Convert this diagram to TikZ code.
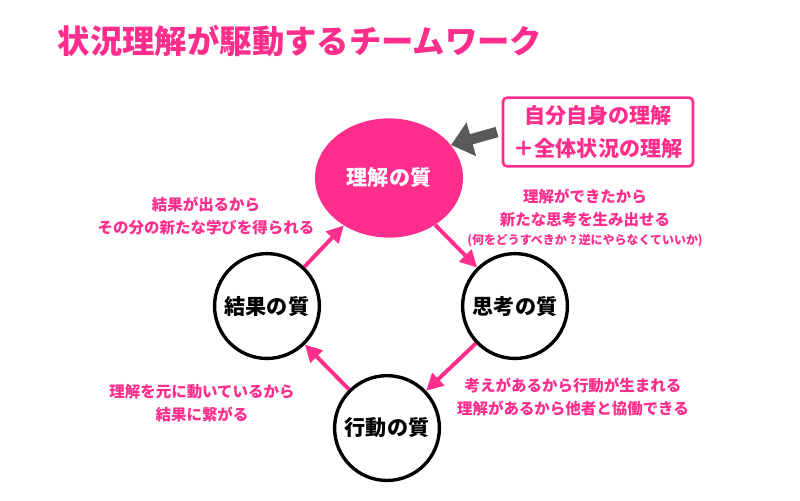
\documentclass[tikz,border=0pt]{standalone}
\usepackage{fontspec}
\setmainfont{Noto Sans CJK JP}
\usetikzlibrary{arrows.meta,shapes.geometric}
\definecolor{qpink}{RGB}{255,46,140}
\definecolor{qgray}{RGB}{89,89,89}

\tikzset{
  quality/.style={circle,draw,line width=2.4pt,minimum size=2.62cm,inner sep=0pt,font=\fontsize{15}{18}\selectfont\bfseries},
  note/.style={text=qpink,align=center,font=\fontsize{11}{16.4}\selectfont\bfseries}
}

\begin{document}
\begin{tikzpicture}[x=0.025cm,y=-0.025cm,node distance=3.2cm,>={Triangle[length=12pt,width=12pt]}]
\useasboundingbox (0,0) rectangle (800,500);
\node[anchor=west,text=qpink,font=\fontsize{23}{26}\selectfont\bfseries] (title) at (53,41) {状況理解が駆動するチームワーク};

\node[ellipse,fill=qpink,minimum width=3.7cm,minimum height=2.98cm,inner sep=0pt,text=white,font=\fontsize{15}{18}\selectfont\bfseries] (understand) at (389,178) {理解の質};
\node[quality,below of = understand,xshift=-3.05cm] (result) {結果の質};
\node[quality,below of = understand,xshift=3.15cm] (think) {思考の質};
\node[quality,below of = result,xshift=3cm,yshift=0.15cm] (action) {行動の質};

\node[draw=qpink,line width=1.9pt,rounded corners=3pt,minimum width=4.75cm,minimum height=1.72cm,align=center,text=qpink,font=\fontsize{15}{22.8}\selectfont\bfseries] (inputs) at (598,132) {自分自身の理解\\＋全体状況の理解};
\coordinate (grayTail) at (497,132);

\draw [->,qpink,line width=2.8pt] (understand) -- (think);
\draw [->,qpink,line width=2.8pt] (think) -- (action);
\draw [->,qpink,line width=2.8pt] (action) -- (result);
\draw [->,qpink,line width=2.8pt] (result) -- (understand);
\draw [qgray,line width=7.5pt,-{Triangle[length=15pt,width=24pt]}] (grayTail) -- (understand.28);

\node[note] (learnNote) at (206,216) {結果が出るから\\その分の新たな学びを得られる};
\node[note] (thinkNote) at (585,218) {理解ができたから\\新たな思考を生み出せる\\[-3pt]{\fontsize{8.5}{12}\selectfont (何をどうすべきか？逆にやらなくていいか)}};
\node[note] (actNote) at (202,403) {理解を元に動いているから\\結果に繋がる};
\node[note] (coopNote) at (573,397) {考えがあるから行動が生まれる\\理解があるから他者と協働できる};

\end{tikzpicture}
\end{document}
